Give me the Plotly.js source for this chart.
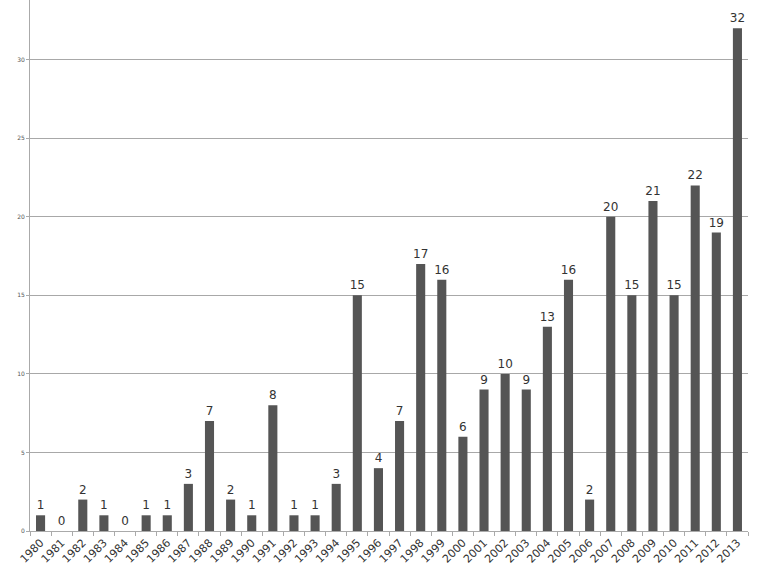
<!DOCTYPE html>
<html>
<head>
<meta charset="utf-8">
<script src="https://cdn.plot.ly/plotly-3.0.1.min.js"></script>
<style>html,body{margin:0;padding:0;background:#fff;}#chart{width:757px;height:572px;}</style>
</head>
<body>
<div id="chart"></div>
<script>
const years = ['1980','1981','1982','1983','1984','1985','1986','1987','1988','1989','1990','1991','1992','1993','1994','1995','1996','1997','1998','1999','2000','2001','2002','2003','2004','2005','2006','2007','2008','2009','2010','2011','2012','2013'];
const counts = [1,0,2,1,0,1,1,3,7,2,1,8,1,1,3,15,4,7,17,16,6,9,10,9,13,16,2,20,15,21,15,22,19,32];
const yTicks = [0,5,10,15,20,25,30];

const trace = {
  type: 'bar',
  x: years,
  y: counts,
  text: counts.map(String),
  textposition: 'outside',
  constraintext: 'none',
  cliponaxis: false,
  textfont: {family: 'DejaVu Sans, sans-serif', size: 12, color: '#333'},
  outsidetextfont: {family: 'DejaVu Sans, sans-serif', size: 12, color: '#333'},
  marker: {color: '#555555', line: {width: 0}},
  width: 0.43,
  hoverinfo: 'x+y'
};

const layout = {
  width: 757, height: 572,
  margin: {l: 30, r: 9, t: 0, b: 41},
  paper_bgcolor: '#fff', plot_bgcolor: '#fff',
  showlegend: false,
  xaxis: {
    type: 'category',
    tickangle: -45,
    tickson: 'boundaries',
    ticks: 'outside', ticklen: 4, tickcolor: '#aaa',
    showgrid: false,
    showline: true, linecolor: '#aaa', linewidth: 1,
    tickfont: {family: 'DejaVu Sans, sans-serif', size: 11, color: '#333'},
    automargin: false
  },
  yaxis: {
    range: [0, 33.8],
    tickvals: yTicks,
    ticktext: yTicks.map(String),
    ticks: 'outside', ticklen: 3, tickcolor: '#aaa',
    showgrid: true, gridcolor: '#a8a8a8', gridwidth: 1,
    showline: true, linecolor: '#aaa', linewidth: 1,
    zeroline: false,
    tickfont: {family: 'DejaVu Sans, sans-serif', size: 6, color: '#555'},
    automargin: false
  }
};

Plotly.newPlot('chart', [trace], layout, {displayModeBar: false, staticPlot: true});
</script>
</body>
</html>
